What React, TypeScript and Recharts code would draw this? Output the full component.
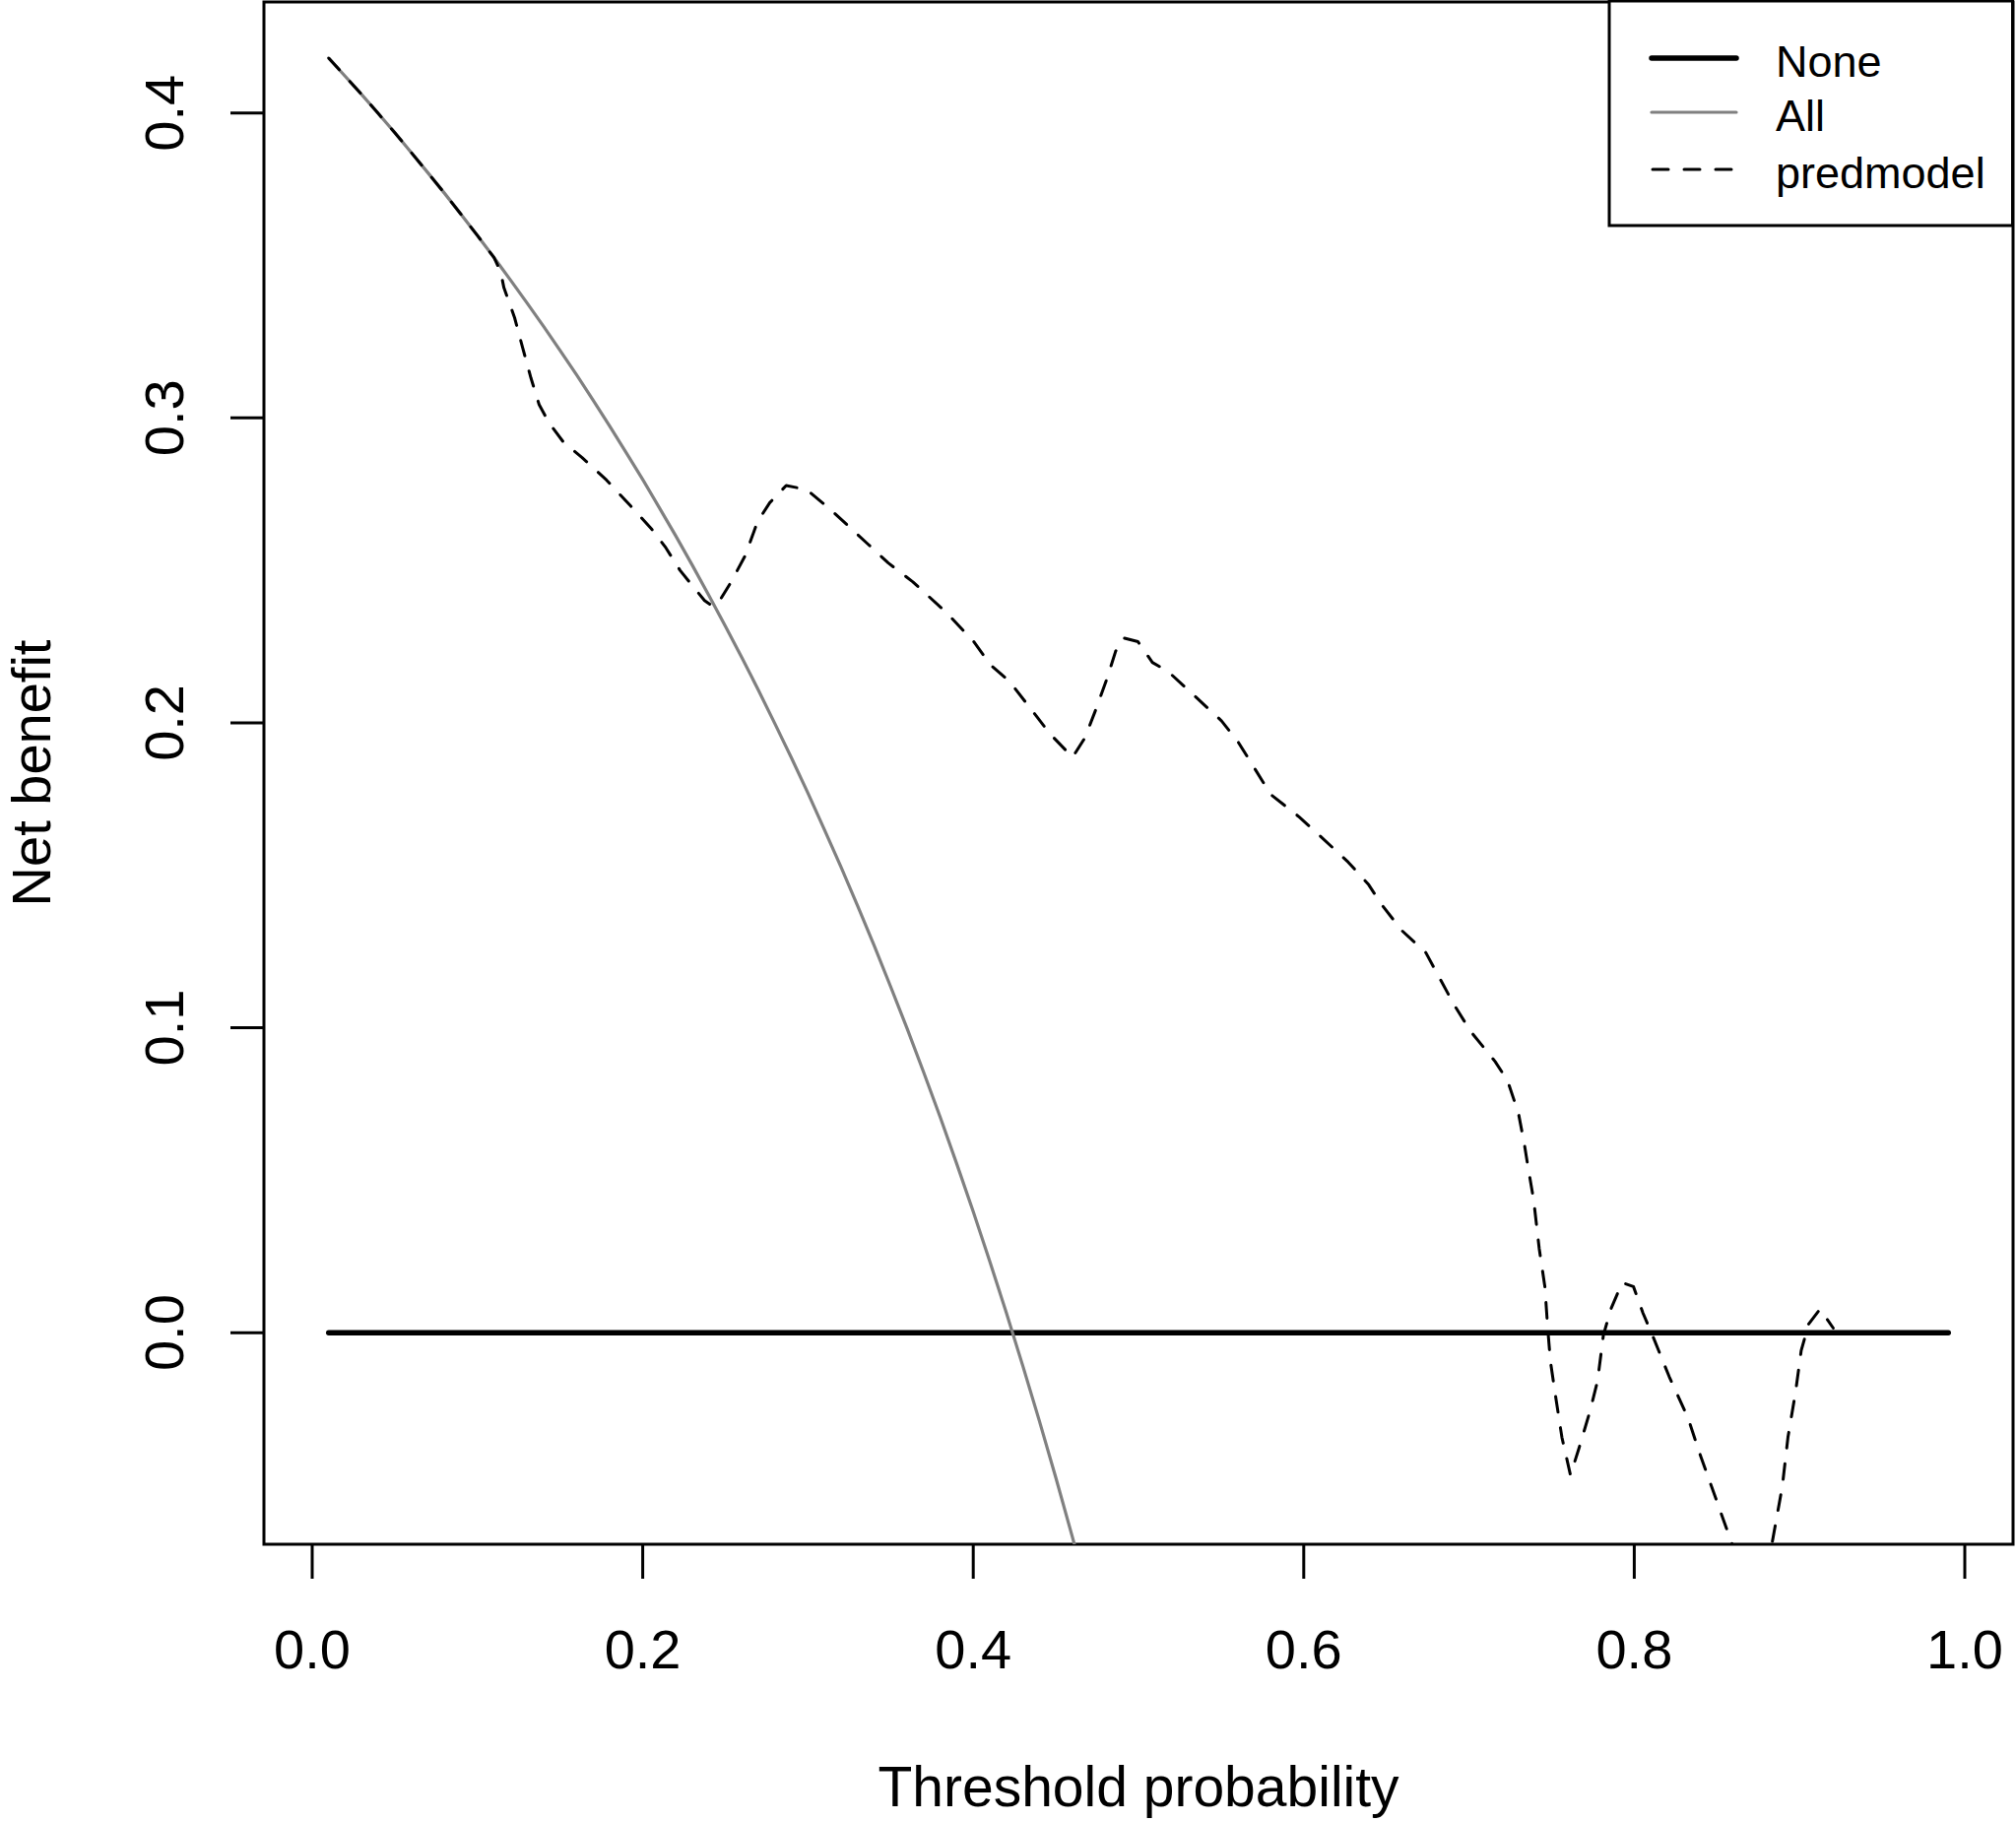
import React from 'react';
import { LineChart, Line, XAxis, YAxis, ReferenceArea, Legend } from 'recharts';

const FONT = "'Liberation Sans', Arial, Helvetica, sans-serif";

const xTicks = [0, 0.2, 0.4, 0.6, 0.8, 1.0];
const xTickLabels = ['0.0', '0.2', '0.4', '0.6', '0.8', '1.0'];
const yTicks = [0, 0.1, 0.2, 0.3, 0.4];
const yTickLabels = ['0.0', '0.1', '0.2', '0.3', '0.4'];

const seriesNames = ['None', 'All', 'predmodel'];

const noneThreshold = [0.01, 0.99];
const noneNB = [0, 0];

const allThreshold = [
  0.01, 0.02, 0.03, 0.04, 0.05, 0.06, 0.07, 0.08, 0.09, 0.1, 0.11, 0.12, 0.13, 0.14, 0.15, 0.16,
  0.17, 0.18, 0.19, 0.2, 0.21, 0.22, 0.23, 0.24, 0.25, 0.26, 0.27, 0.28, 0.29, 0.3, 0.31, 0.32,
  0.33, 0.34, 0.35, 0.36, 0.37, 0.38, 0.39, 0.4, 0.41, 0.42, 0.43, 0.44, 0.45, 0.46, 0.47, 0.48,
];
const allNB = [
  0.418, 0.412, 0.406, 0.3998, 0.3935, 0.387, 0.3804, 0.3737, 0.3668, 0.3598, 0.3526, 0.3452,
  0.3377, 0.33, 0.3221, 0.3141, 0.3058, 0.2973, 0.2886, 0.2798, 0.2706, 0.2613, 0.2517, 0.2418,
  0.2317, 0.2214, 0.2107, 0.1997, 0.1885, 0.1769, 0.1649, 0.1527, 0.14, 0.127, 0.1135, 0.0997,
  0.0854, 0.0707, 0.0554, 0.0397, 0.0234, 0.0066, -0.0109, -0.0289, -0.0476, -0.067, -0.0872,
  -0.1081,
];

const modelThreshold = [
  0.01, 0.02, 0.03, 0.04, 0.05, 0.06, 0.07, 0.08, 0.09, 0.1, 0.11, 0.114, 0.116, 0.1225, 0.1274,
  0.1324, 0.1373, 0.1435, 0.1521, 0.1633, 0.1781, 0.1929, 0.2053, 0.214, 0.2226, 0.23, 0.2374,
  0.2424, 0.2473, 0.2535, 0.2621, 0.2695, 0.2769, 0.2868, 0.2992, 0.3141, 0.3363, 0.3486, 0.3635,
  0.3833, 0.4005, 0.4104, 0.4219, 0.4342, 0.4466, 0.4601, 0.4676, 0.4738, 0.4812, 0.4862, 0.4911,
  0.4997, 0.5084, 0.5182, 0.533, 0.5503, 0.5602, 0.5701, 0.58, 0.5973, 0.6097, 0.6269, 0.6393,
  0.6467, 0.6591, 0.6739, 0.6813, 0.6911, 0.701, 0.7158, 0.7233, 0.7299, 0.7334, 0.7356, 0.7391,
  0.7425, 0.7459, 0.7477, 0.7493, 0.7527, 0.7562, 0.7614, 0.7665, 0.7733, 0.7778, 0.7813, 0.7858,
  0.7927, 0.7995, 0.8052, 0.812, 0.8212, 0.8326, 0.8394, 0.8508, 0.8752, 0.8896, 0.893, 0.8976,
  0.901, 0.9055, 0.9124, 0.9204,
];
const modelNB = [
  0.418, 0.412, 0.406, 0.3998, 0.3935, 0.387, 0.3804, 0.3737, 0.3668, 0.3598, 0.3526, 0.348,
  0.3427, 0.3328, 0.3229, 0.313, 0.3044, 0.2982, 0.292, 0.287, 0.2796, 0.271, 0.2636, 0.2574,
  0.25, 0.245, 0.2401, 0.2382, 0.2407, 0.2462, 0.2549, 0.266, 0.2722, 0.2778, 0.2765, 0.2697,
  0.2586, 0.2524, 0.2462, 0.2364, 0.2265, 0.219, 0.2136, 0.205, 0.1963, 0.1887, 0.1951, 0.2038,
  0.2149, 0.2235, 0.2278, 0.2266, 0.2198, 0.2167, 0.2093, 0.2006, 0.1938, 0.1852, 0.1765, 0.1691,
  0.163, 0.1543, 0.1469, 0.1407, 0.132, 0.1246, 0.1172, 0.1074, 0.0988, 0.0889, 0.0827, 0.072,
  0.0621, 0.0547, 0.0436, 0.0275, 0.0151, 0.0009, -0.0096, -0.022, -0.0343, -0.0467, -0.038,
  -0.0256, -0.0158, -0.0009, 0.0077, 0.0164, 0.0151, 0.0065, -0.0022, -0.0145, -0.0281, -0.0393,
  -0.0566, -0.0937, -0.0504, -0.0343, -0.0195, -0.0059, 0.0028, 0.0077, 0.0015,
];

const X_DOMAIN: [number, number] = [-0.0292, 1.0292];
const Y_DOMAIN: [number, number] = [-0.0694, 0.4364];

const zip = (xs: number[], ys: number[]) => xs.map((x, i) => ({ x, y: ys[i] }));
const noneData = zip(noneThreshold, noneNB);
const allData = zip(allThreshold, allNB);
const modelData = zip(modelThreshold, modelNB);

const XTick = (props: any) => {
  const { x, y, payload } = props;
  const idx = xTicks.indexOf(payload.value);
  return (
    <text x={x} y={y + 91} textAnchor="middle" fontSize={56} fontFamily={FONT} fill="#000">
      {idx >= 0 ? xTickLabels[idx] : String(payload.value)}
    </text>
  );
};

const YTick = (props: any) => {
  const { x, y, payload } = props;
  const idx = yTicks.indexOf(payload.value);
  const bx = x - 48;
  return (
    <text
      x={bx}
      y={y}
      transform={`rotate(-90, ${bx}, ${y})`}
      textAnchor="middle"
      fontSize={56}
      fontFamily={FONT}
      fill="#000"
    >
      {idx >= 0 ? yTickLabels[idx] : String(payload.value)}
    </text>
  );
};

const XTitle = (props: any) => {
  const vb = props.viewBox;
  return (
    <text
      x={vb.x + vb.width / 2}
      y={vb.y + 266}
      textAnchor="middle"
      fontSize={57}
      fontFamily={FONT}
      fill="#000"
    >
      Threshold probability
    </text>
  );
};

const YTitle = (props: any) => {
  const vb = props.viewBox;
  const cx = vb.x + 51;
  const cy = vb.y + vb.height / 2;
  return (
    <text
      x={cx}
      y={cy}
      transform={`rotate(-90, ${cx}, ${cy})`}
      textAnchor="middle"
      fontSize={56}
      fontFamily={FONT}
      fill="#000"
    >
      Net benefit
    </text>
  );
};

const LegendBox = () => (
  <svg width={414} height={232} style={{ display: 'block' }}>
    <rect x={2} y={1} width={409.5} height={228} fill="#fff" stroke="#000" strokeWidth={3} />
    <line x1={45} x2={131} y1={59} y2={59} stroke="#000" strokeWidth={5.5} strokeLinecap="round" />
    <line x1={45} x2={131} y1={114} y2={114} stroke="#808080" strokeWidth={3.2} strokeLinecap="round" />
    <line
      x1={46}
      x2={131}
      y1={172}
      y2={172}
      stroke="#000"
      strokeWidth={3}
      strokeDasharray="16 16"
      strokeLinecap="round"
    />
    <text x={171} y={78} fontSize={45} fontFamily={FONT} fill="#000">
      {seriesNames[0]}
    </text>
    <text x={171} y={133} fontSize={45} fontFamily={FONT} fill="#000">
      {seriesNames[1]}
    </text>
    <text x={171} y={191} fontSize={45} fontFamily={FONT} fill="#000">
      {seriesNames[2]}
    </text>
  </svg>
);

export default function App() {
  return (
    <div style={{ position: 'absolute', left: 0, top: 0, width: 2047, height: 1849, background: '#fff' }}>
      <LineChart width={2047} height={1849} margin={{ top: 2, right: 3, left: 0, bottom: 0 }}>
        <XAxis
          type="number"
          dataKey="x"
          domain={X_DOMAIN}
          ticks={xTicks}
          interval={0}
          allowDataOverflow
          height={281}
          axisLine={false}
          tickLine={{ stroke: '#000', strokeWidth: 3 }}
          tickSize={35}
          tickMargin={0}
          tick={<XTick />}
          label={(p: any) => <XTitle {...p} />}
        />
        <YAxis
          type="number"
          dataKey="y"
          domain={Y_DOMAIN}
          ticks={yTicks}
          interval={0}
          allowDataOverflow
          width={268}
          axisLine={false}
          tickLine={{ stroke: '#000', strokeWidth: 3 }}
          tickSize={34}
          tickMargin={0}
          tick={<YTick />}
          label={(p: any) => <YTitle {...p} />}
        />
        <Line
          data={noneData}
          dataKey="y"
          name={seriesNames[0]}
          type="linear"
          stroke="#000"
          strokeWidth={5.5}
          strokeLinecap="round"
          dot={false}
          activeDot={false}
          isAnimationActive={false}
        />
        <Line
          data={allData}
          dataKey="y"
          name={seriesNames[1]}
          type="linear"
          stroke="#808080"
          strokeWidth={3.2}
          strokeLinejoin="round"
          dot={false}
          activeDot={false}
          isAnimationActive={false}
        />
        <Line
          data={modelData}
          dataKey="y"
          name={seriesNames[2]}
          type="linear"
          stroke="#000"
          strokeWidth={3}
          strokeDasharray="16 16"
          strokeLinecap="round"
          strokeLinejoin="round"
          dot={false}
          activeDot={false}
          isAnimationActive={false}
        />
        <ReferenceArea
          x1={X_DOMAIN[0]}
          x2={X_DOMAIN[1]}
          y1={Y_DOMAIN[0]}
          y2={Y_DOMAIN[1]}
          fill="none"
          fillOpacity={0}
          stroke="#000"
          strokeWidth={3}
          ifOverflow="visible"
        />
        <Legend
          layout="vertical"
          align="center"
          verticalAlign="middle"
          wrapperStyle={{ position: 'absolute', left: 1632, top: 0, width: 414, height: 232 }}
          content={() => <LegendBox />}
        />
      </LineChart>
    </div>
  );
}
